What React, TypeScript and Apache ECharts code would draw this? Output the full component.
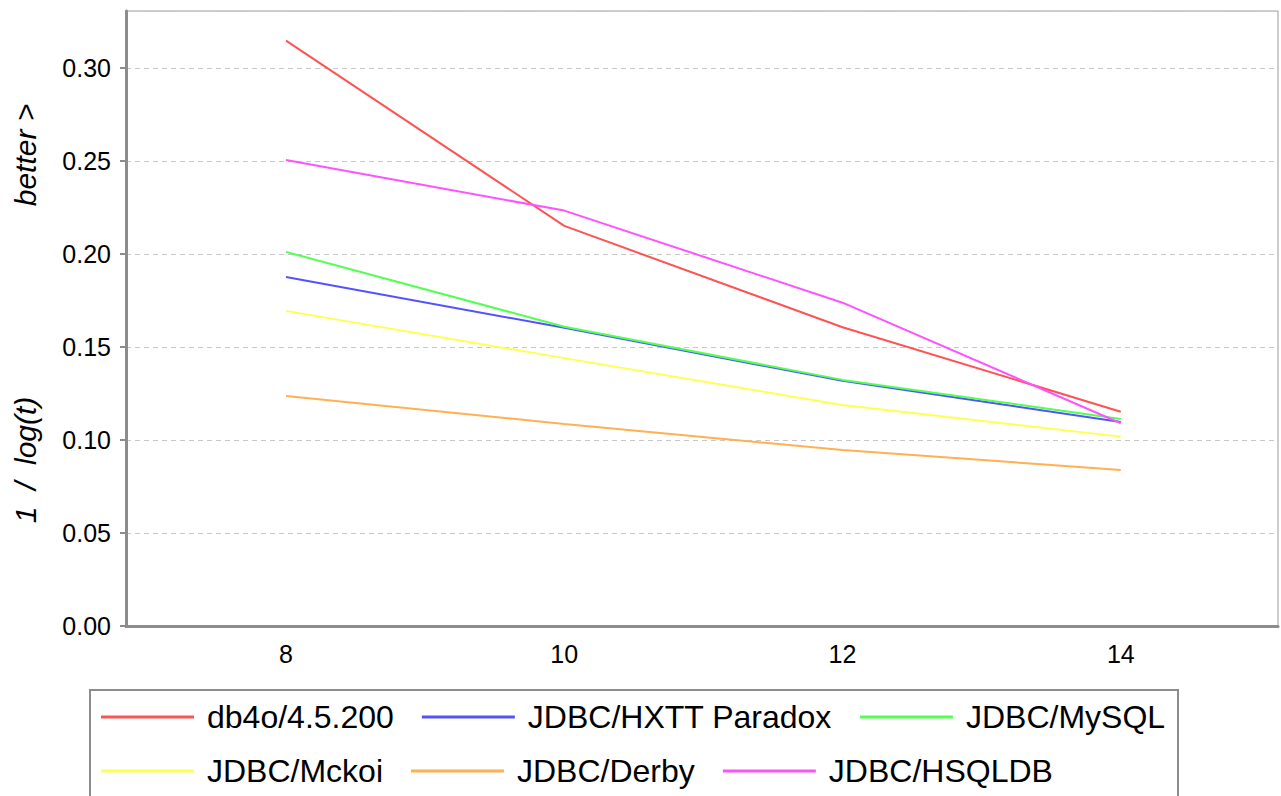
import React, { useEffect, useRef } from "react";
import * as echarts from "echarts";

const xValues = [8, 10, 12, 14];
const xTickLabels = [8, 10, 12, 14];
const seriesNames = [
  "db4o/4.5.200",
  "JDBC/HXTT Paradox",
  "JDBC/MySQL",
  "JDBC/Mckoi",
  "JDBC/Derby",
  "JDBC/HSQLDB",
];
const legendRow1 = ["db4o/4.5.200", "JDBC/HXTT Paradox", "JDBC/MySQL"];
const legendRow2 = ["JDBC/Mckoi", "JDBC/Derby", "JDBC/HSQLDB"];
const db4o = [0.3147, 0.2151, 0.1606, 0.1152];
const hxtt = [0.1876, 0.1603, 0.1318, 0.1097];
const mysql = [0.2011, 0.1609, 0.1323, 0.1113];
const mckoi = [0.1694, 0.144, 0.1188, 0.1018];
const derby = [0.1237, 0.1086, 0.0946, 0.0839];
const hsqldb = [0.2505, 0.2233, 0.1738, 0.109];
const seriesValues = [db4o, hxtt, mysql, mckoi, derby, hsqldb];
const colors = ["#ff5252", "#5252ff", "#52ff52", "#ffff52", "#ffb152", "#ff52ff"];

const FONT = "'Liberation Sans', Arial, sans-serif";

export default function App() {
  const ref = useRef<HTMLDivElement>(null);
  useEffect(() => {
    if (!ref.current) return;
    const chart = echarts.init(ref.current, null, { renderer: "svg" });
    const legendCommon = {
      show: true,
      orient: "horizontal",
      left: 101,
      itemWidth: 93,
      itemHeight: 3,
      itemGap: 28,
      icon: "rect",
      padding: 0,
      textStyle: {
        fontSize: 32,
        color: "#000",
        fontFamily: FONT,
        padding: [0, 0, 4, 8],
      },
    };
    chart.setOption({
      animation: false,
      backgroundColor: "#ffffff",
      textStyle: { fontFamily: FONT },
      grid: {
        left: 126,
        top: 11,
        right: 3,
        bottom: 170,
        show: true,
        borderColor: "#9a9a9a",
        borderWidth: 1,
        backgroundColor: "transparent",
      },
      xAxis: {
        type: "value",
        min: 6.85,
        max: 15.13,
        axisLine: { show: true, onZero: false, lineStyle: { color: "#8c8c8c", width: 3 } },
        axisTick: { show: false },
        splitLine: { show: false },
        axisLabel: {
          customValues: xTickLabels,
          fontSize: 25,
          color: "#000",
          margin: 15,
          fontFamily: FONT,
        },
      },
      yAxis: {
        type: "value",
        min: 0,
        max: 0.3306,
        interval: 0.05,
        axisLine: { show: true, lineStyle: { color: "#8c8c8c", width: 3 } },
        axisTick: { show: true, length: 6, lineStyle: { color: "#8c8c8c", width: 2 } },
        splitLine: { show: true, lineStyle: { color: "#c8c8c8", width: 1, type: [5, 4] } },
        axisLabel: {
          fontSize: 25,
          color: "#000",
          margin: 15,
          fontFamily: FONT,
          showMaxLabel: false,
          formatter: (v: number) => v.toFixed(2),
        },
      },
      legend: [
        { ...legendCommon, top: 701, data: legendRow1 },
        { ...legendCommon, top: 755, data: legendRow2 },
      ],
      graphic: [
        {
          type: "rect",
          shape: { x: 90, y: 690, width: 1088, height: 130 },
          style: { fill: "none", stroke: "#8c8c8c", lineWidth: 2 },
          silent: true,
        },
        {
          type: "text",
          x: 25,
          y: 155,
          rotation: Math.PI / 2,
          style: {
            text: "better >",
            fontSize: 30,
            fontStyle: "italic",
            fontFamily: FONT,
            fill: "#000",
            align: "center",
            verticalAlign: "middle",
          },
        },
        {
          type: "text",
          x: 25,
          y: 460,
          rotation: Math.PI / 2,
          style: {
            text: "1\u00a0\u00a0/\u00a0\u00a0log(t)",
            fontSize: 30,
            fontStyle: "italic",
            fontFamily: FONT,
            fill: "#000",
            align: "center",
            verticalAlign: "middle",
          },
        },
      ],
      series: seriesNames.map((name, i) => ({
        name,
        type: "line",
        data: xValues.map((x, j) => [x, seriesValues[i][j]]),
        showSymbol: false,
        symbol: "none",
        lineStyle: { color: colors[i], width: 2 },
        itemStyle: { color: colors[i] },
        z: 2,
      })),
    });
    return () => chart.dispose();
  }, []);
  return (
    <div
      ref={ref}
      style={{ position: "fixed", left: 0, top: 0, width: 1281, height: 796 }}
    />
  );
}
